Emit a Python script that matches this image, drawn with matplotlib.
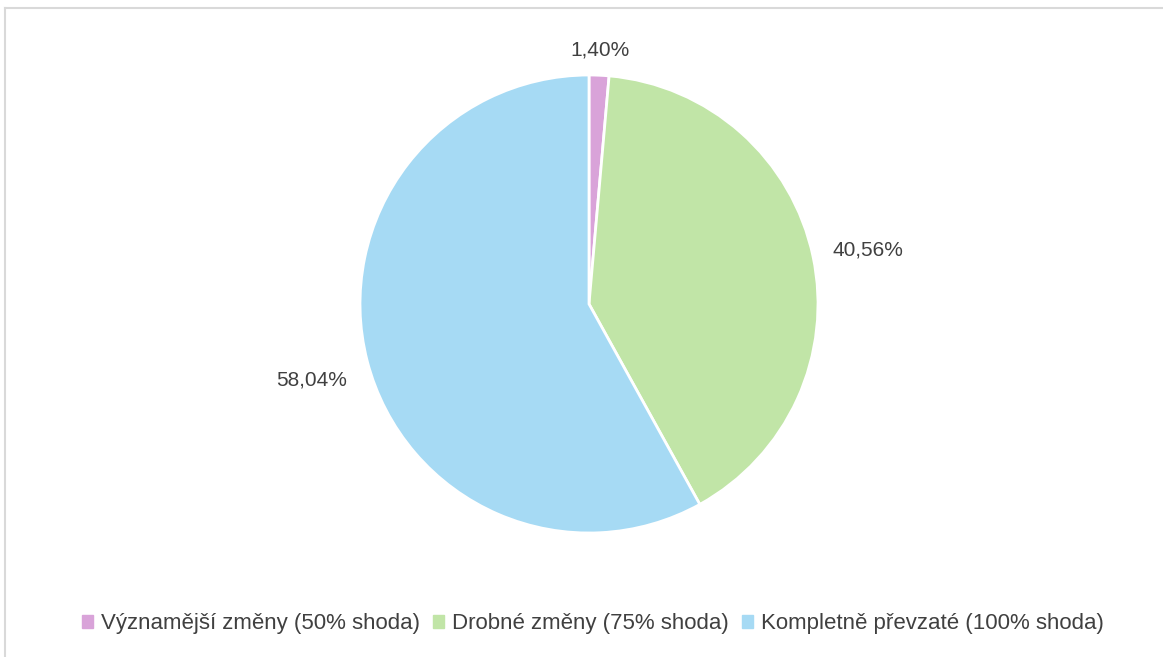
import numpy as np
import matplotlib.pyplot as plt
from matplotlib.lines import Line2D

# Podíl převzatých částí podle míry shody
categories = ['Významější změny (50% shoda)', 'Drobné změny (75% shoda)', 'Kompletně převzaté (100% shoda)']
shares = [1.40, 40.56, 58.04]
colors = ['#D9A3D9', '#C1E5A7', '#A6DAF4']
label_dist = [1.13, 1.245, 1.25]

plt.rcParams['font.family'] = ['Liberation Sans', 'DejaVu Sans']

fig = plt.figure(figsize=(11.63, 6.57), dpi=100)
W, H = 1163, 657

# frame lines of the chart area
fig.add_artist(Line2D([5 / W, 5 / W], [0, 1 - 8 / H], color='#D9D9D9', lw=1.5))
fig.add_artist(Line2D([5 / W, 1], [1 - 8 / H, 1 - 8 / H], color='#D9D9D9', lw=1.5))

cx, cy, r = 589, 304, 229
ax = fig.add_axes([(cx - r) / W, (H - cy - r) / H, 2 * r / W, 2 * r / H])
wedges, _ = ax.pie(shares, colors=colors, startangle=90, counterclock=False,
                   wedgeprops=dict(edgecolor='white', linewidth=2))
ax.set_xlim(-1, 1)
ax.set_ylim(-1, 1)
ax.set_aspect('equal')

for w, v, d in zip(wedges, shares, label_dist):
    ang = np.deg2rad((w.theta1 + w.theta2) / 2)
    ax.text(d * np.cos(ang), d * np.sin(ang) - 0.02, f'{v:.2f}'.replace('.', ',') + '%',
            ha='center', va='center', fontsize=15, color='#404040', clip_on=False)

handles = [plt.Rectangle((0, 0), 1, 1, color=c) for c in colors]
fig.legend(handles, categories, loc='center', bbox_to_anchor=(593 / W, 1 - 624 / H),
           ncol=3, frameon=False, fontsize=16, handlelength=0.5, handleheight=0.5,
           handletextpad=0.35, columnspacing=0.6, labelcolor='#404040')

fig.savefig('out.png', dpi=100, facecolor='white')
